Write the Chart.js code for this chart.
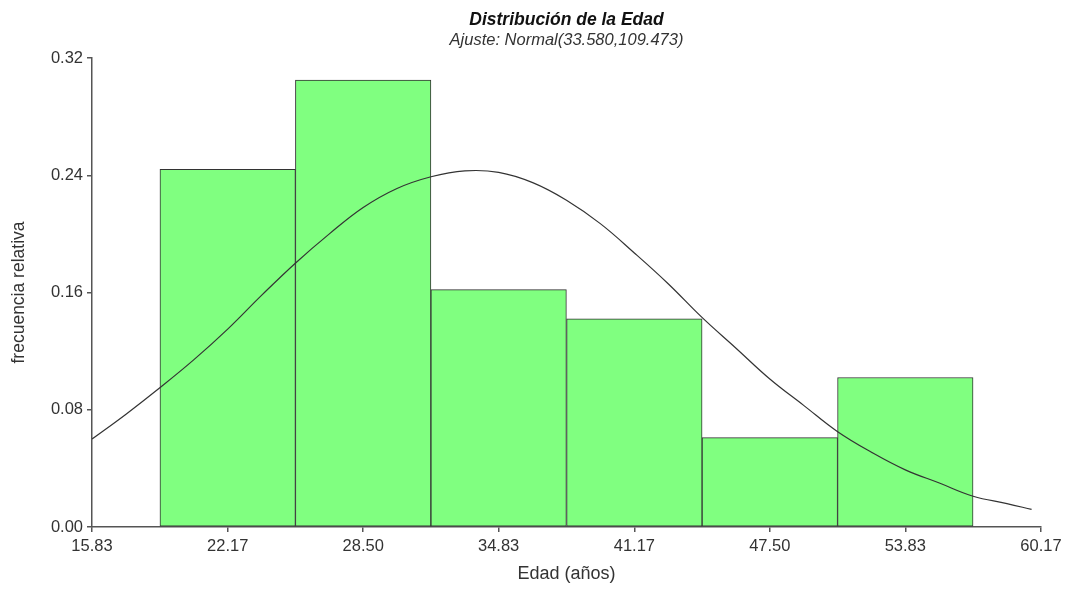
<!DOCTYPE html>
<html>
<head>
<meta charset="utf-8">
<title>Distribución de la Edad</title>
<script src="https://cdn.jsdelivr.net/npm/chart.js@4/dist/chart.umd.min.js"></script>
<style>
  html, body { margin: 0; padding: 0; background: #ffffff; }
  #wrap { width: 1070px; height: 601px; }
</style>
</head>
<body>
<div id="wrap"><canvas id="c" width="1070" height="601"></canvas></div>
<script>
// Histogram bins (centre of each class, years) and relative frequencies
const binCenters = [22.17, 28.50, 34.83, 41.17, 47.50, 53.83];
const relFreq = [0.244, 0.305, 0.162, 0.142, 0.061, 0.102];

// Fitted normal curve, sampled along the age axis
const curveX = [15.83, 17.42, 19.00, 20.58, 22.17, 23.75, 25.33, 26.92, 28.50, 30.08,
                31.67, 33.25, 34.83, 36.42, 38.00, 39.58, 41.17, 42.75, 44.33, 45.92,
                47.50, 49.08, 50.67, 52.25, 53.83, 55.42, 57.00, 58.58, 59.73];
const curveY = [0.060, 0.077, 0.095, 0.114, 0.135, 0.158, 0.180, 0.200, 0.218, 0.231,
                0.239, 0.243, 0.242, 0.235, 0.223, 0.207, 0.187, 0.166, 0.143, 0.122,
                0.101, 0.083, 0.065, 0.051, 0.039, 0.030, 0.021, 0.016, 0.012];

// Axis tick labels
const xTicks = [15.83, 22.17, 28.50, 34.83, 41.17, 47.50, 53.83, 60.17];
const yTicks = [0.00, 0.08, 0.16, 0.24, 0.32];

const titleText = 'Distribución de la Edad';
const subtitleText = 'Ajuste: Normal(33.580,109.473)';

const FONT = '"Liberation Sans", Arial, sans-serif';
const TEXT = '#333333';
const AXIS = '#555555';

const headerPlugin = {
  id: 'header',
  afterDraw(chart) {
    const { ctx, chartArea } = chart;
    const cx = (chartArea.left + chartArea.right) / 2;
    ctx.save();
    ctx.fillStyle = '#111111';
    ctx.textAlign = 'center';
    ctx.textBaseline = 'alphabetic';
    ctx.font = 'italic bold 17.5px ' + FONT;
    ctx.fillText(titleText, cx, 25);
    ctx.fillStyle = TEXT;
    ctx.font = 'italic 16.5px ' + FONT;
    ctx.fillText(subtitleText, cx, 45);
    ctx.restore();
  }
};

new Chart(document.getElementById('c'), {
  type: 'bar',
  data: {
    datasets: [
      {
        type: 'line',
        label: 'Normal',
        data: curveX.map((x, i) => ({ x: x, y: curveY[i] })),
        borderColor: '#333333',
        borderWidth: 1.2,
        pointRadius: 0,
        fill: false,
        tension: 0.4,
        order: 0
      },
      {
        type: 'bar',
        label: 'frecuencia relativa',
        data: binCenters.map((x, i) => ({ x: x, y: relFreq[i] })),
        backgroundColor: '#80ff80',
        borderColor: '#333333',
        borderWidth: 1,
        borderSkipped: false,
        barPercentage: 1,
        categoryPercentage: 1,
        order: 1
      }
    ]
  },
  options: {
    responsive: false,
    animation: false,
    devicePixelRatio: 1,
    layout: { padding: { left: 0, right: 29, top: 58, bottom: 0 } },
    plugins: {
      legend: { display: false },
      tooltip: { enabled: false },
      title: { display: false }
    },
    scales: {
      x: {
        type: 'linear',
        offset: false,
        min: xTicks[0],
        max: xTicks[xTicks.length - 1],
        afterBuildTicks(scale) { scale.ticks = xTicks.map(v => ({ value: v })); },
        afterFit(scale) { scale.height = 74; },
        ticks: {
          autoSkip: false,
          maxRotation: 0,
          padding: 5,
          color: TEXT,
          font: { family: FONT, size: 16.5 },
          callback: v => Number(v).toFixed(2)
        },
        grid: { display: true, offset: false, drawOnChartArea: false, drawTicks: true, tickLength: 5, color: AXIS, lineWidth: 1.5 },
        border: { display: true, color: AXIS, width: 1.5 },
        title: {
          display: true,
          text: 'Edad (años)',
          color: TEXT,
          font: { family: FONT, size: 18 },
          padding: { top: 0, bottom: 16 }
        }
      },
      y: {
        type: 'linear',
        min: 0,
        max: 0.32,
        afterBuildTicks(scale) { scale.ticks = yTicks.map(v => ({ value: v })); },
        afterFit(scale) { scale.width = 92; },
        ticks: {
          autoSkip: false,
          padding: 4,
          color: TEXT,
          font: { family: FONT, size: 16.5 },
          callback: v => Number(v).toFixed(2)
        },
        grid: { display: true, offset: false, drawOnChartArea: false, drawTicks: true, tickLength: 5, color: AXIS, lineWidth: 1.5 },
        border: { display: true, color: AXIS, width: 1.5 },
        title: {
          display: true,
          text: 'frecuencia relativa',
          color: TEXT,
          font: { family: FONT, size: 17.5 },
          padding: { top: 9, bottom: 0 }
        }
      }
    }
  },
  plugins: [headerPlugin]
});
</script>
</body>
</html>
